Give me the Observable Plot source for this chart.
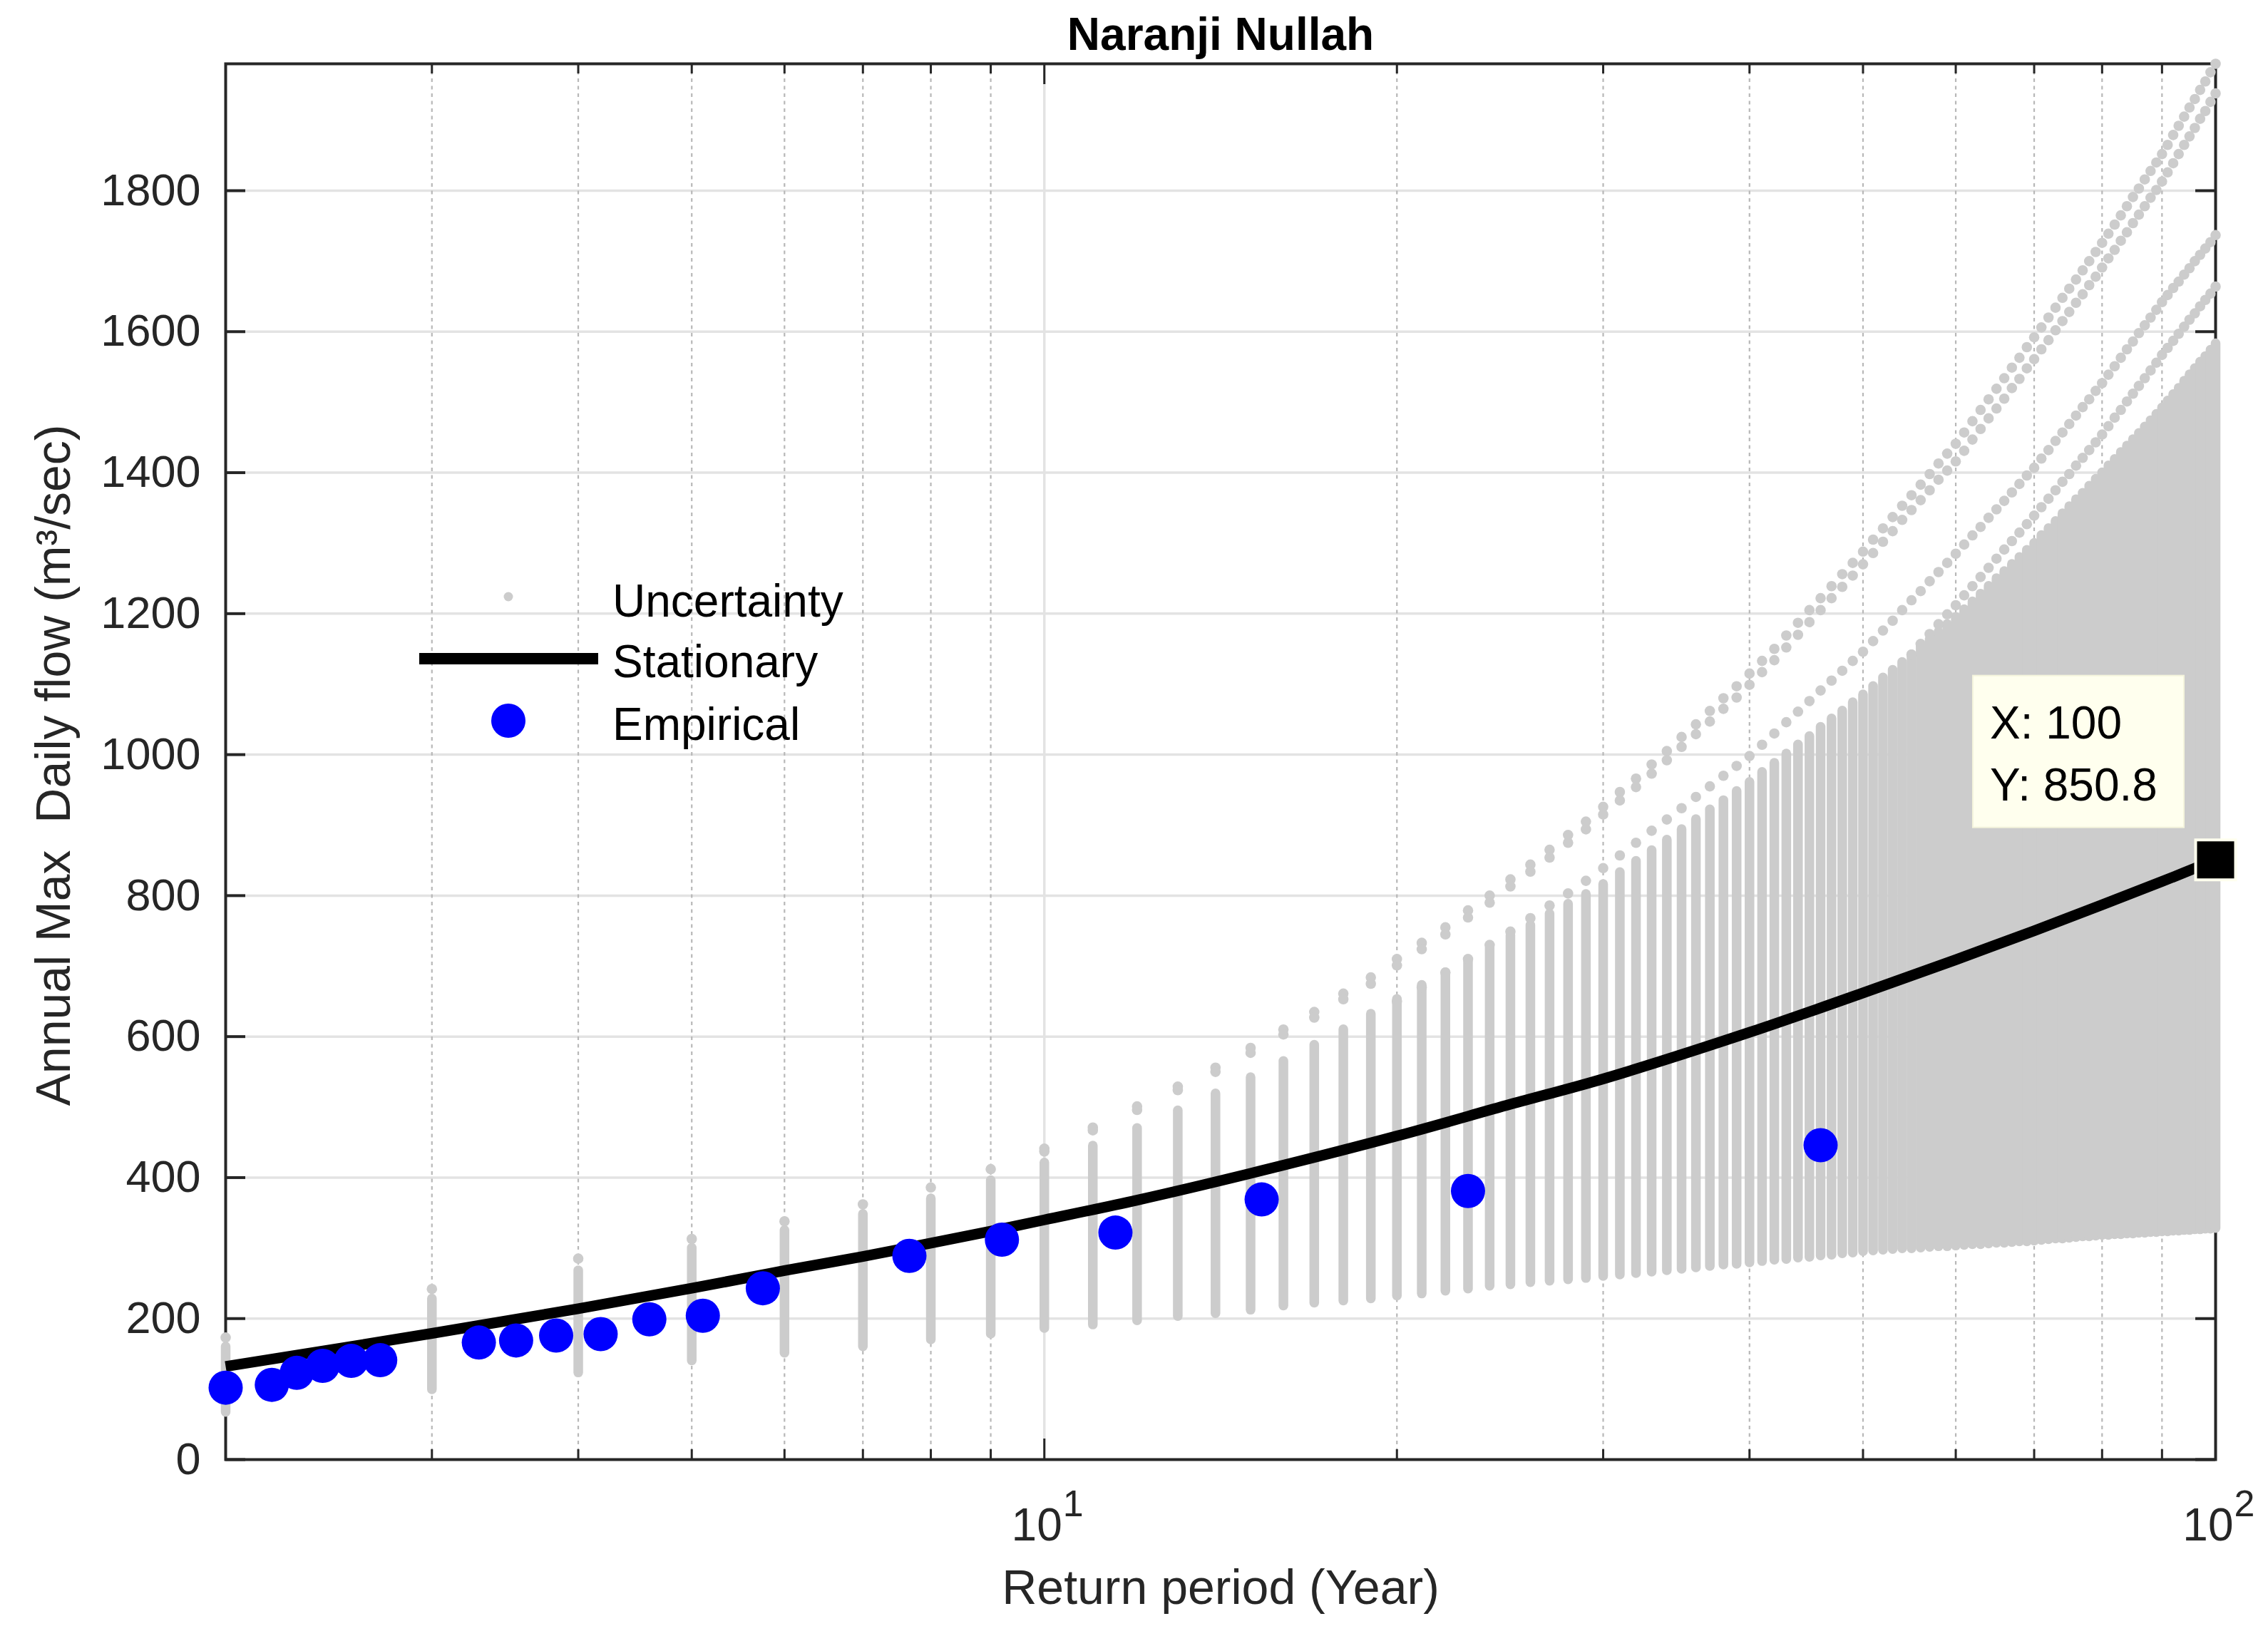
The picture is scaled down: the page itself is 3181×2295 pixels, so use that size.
<!DOCTYPE html>
<html>
<head>
<meta charset="utf-8">
<script src="https://cdn.jsdelivr.net/npm/d3@7"></script>
<script src="https://cdn.jsdelivr.net/npm/@observablehq/plot@0.6"></script>
<style>
  html, body { margin: 0; padding: 0; background: #ffffff; overflow: hidden; }
</style>
</head>
<body>
<div id="chart"></div>
<script>
// ---------------- data ----------------
const TITLE = "Naranji Nullah";
const X_LABEL = "Return period (Year)";
const Y_LABEL = "Annual Max\u00a0 Daily flow (m\u00b3/sec)";

const Y_TICKS = [0, 200, 400, 600, 800, 1000, 1200, 1400, 1600, 1800];
const X_MAJOR = [10, 100];
const X_MINOR = [3, 4, 5, 6, 7, 8, 9, 20, 30, 40, 50, 60, 70, 80, 90];
const X_EXP = ["1", "2"];

// return periods of the uncertainty columns
const T_YEARS = [
  2, 3, 4, 5, 6, 7, 8, 9,
  10, 11, 12, 13, 14, 15, 16, 17, 18, 19,
  20, 21, 22, 23, 24, 25, 26, 27, 28, 29,
  30, 31, 32, 33, 34, 35, 36, 37, 38, 39,
  40, 41, 42, 43, 44, 45, 46, 47, 48, 49,
  50, 51, 52, 53, 54, 55, 56, 57, 58, 59,
  60, 61, 62, 63, 64, 65, 66, 67, 68, 69,
  70, 71, 72, 73, 74, 75, 76, 77, 78, 79,
  80, 81, 82, 83, 84, 85, 86, 87, 88, 89,
  90, 91, 92, 93, 94, 95, 96, 97, 98, 99,
  100
];
// bottom of the dense uncertainty column
const UNC_LOW = [
  67, 99, 123, 140, 151, 160, 170, 178,
  186, 191, 197, 203, 207, 212, 218, 222, 225, 228,
  232, 235, 239, 242, 246, 248, 251, 253, 255, 257,
  260, 262, 264, 266, 268, 270, 272, 274, 276, 277,
  279, 281, 283, 284, 286, 287, 289, 290, 292, 293,
  295, 296, 297, 298, 299, 299, 300, 301, 302, 302,
  303, 304, 305, 305, 306, 307, 307, 308, 309, 309,
  310, 311, 312, 313, 313, 314, 315, 316, 316, 317,
  318, 318, 319, 319, 320, 320, 321, 321, 322, 322,
  323, 323, 324, 324, 325, 325, 326, 326, 327, 327,
  328
];
// top of the dense uncertainty column
const UNC_HIGH = [
  160, 228, 268, 300, 325, 348, 370, 396,
  421, 445, 470, 495, 519, 542, 565, 588, 610, 632,
  653, 673, 691, 709, 726, 743, 758, 774, 788, 802,
  816, 833, 849, 864, 879, 894, 908, 922, 935, 948,
  961, 975, 988, 1001, 1014, 1026, 1039, 1051, 1062, 1074,
  1085, 1097, 1109, 1120, 1131, 1142, 1153, 1164, 1174, 1185,
  1195, 1206, 1217, 1228, 1239, 1250, 1260, 1270, 1280, 1290,
  1300, 1311, 1321, 1331, 1342, 1352, 1362, 1371, 1381, 1391,
  1400, 1410, 1419, 1429, 1438, 1447, 1456, 1465, 1474, 1483,
  1492, 1502, 1511, 1520, 1530, 1539, 1548, 1557, 1565, 1574,
  1583
];
// separate upper uncertainty curves (dotted)
const UNC_A = [
  173, 242, 285, 313, 338, 362, 386, 412,
  441, 471, 501, 529, 556, 584, 610, 635, 661, 684,
  710, 733, 755, 779, 800, 823, 844, 865, 886, 905,
  926, 947, 966, 986, 1005, 1025, 1043, 1062, 1080, 1097,
  1115, 1133, 1150, 1169, 1187, 1205, 1222, 1239, 1256, 1272,
  1288, 1305, 1321, 1337, 1353, 1368, 1383, 1398, 1413, 1427,
  1441, 1457, 1473, 1489, 1504, 1519, 1534, 1549, 1563, 1578,
  1592, 1606, 1620, 1634, 1648, 1661, 1674, 1687, 1700, 1713,
  1726, 1739, 1752, 1765, 1778, 1791, 1803, 1816, 1828, 1840,
  1852, 1865, 1879, 1892, 1905, 1918, 1930, 1943, 1955, 1968,
  1980
];
const UNC_A2 = [
  null, null, null, null, null, null, null, null,
  437, 467, 496, 524, 550, 577, 603, 627, 653, 675,
  701, 724, 745, 769, 790, 813, 834, 854, 875, 894,
  915, 935, 954, 973, 992, 1011, 1029, 1047, 1065, 1081,
  1099, 1117, 1134, 1152, 1170, 1188, 1205, 1222, 1238, 1254,
  1270, 1286, 1302, 1317, 1333, 1347, 1361, 1375, 1390, 1403,
  1416, 1431, 1447, 1462, 1477, 1491, 1505, 1520, 1533, 1548,
  1561, 1575, 1588, 1602, 1615, 1628, 1641, 1653, 1666, 1678,
  1691, 1704, 1716, 1729, 1741, 1754, 1766, 1778, 1790, 1801,
  1813, 1826, 1839, 1852, 1865, 1877, 1889, 1902, 1913, 1926,
  1938
];
const UNC_B = [
  null, null, null, null, null, null, null, null,
  null, null, null, null, null, null, null, null, null, null,
  650, 670, 691, 710, 730, 749, 768, 786, 803, 821,
  839, 857, 875, 892, 908, 924, 940, 955, 970, 984,
  998, 1014, 1030, 1046, 1061, 1076, 1091, 1105, 1119, 1133,
  1146, 1161, 1176, 1190, 1205, 1219, 1232, 1246, 1259, 1272,
  1285, 1298, 1311, 1323, 1336, 1348, 1360, 1372, 1384, 1396,
  1407, 1420, 1432, 1445, 1457, 1469, 1481, 1493, 1504, 1516,
  1527, 1539, 1551, 1563, 1575, 1586, 1598, 1609, 1620, 1631,
  1642, 1652, 1662, 1671, 1681, 1690, 1700, 1709, 1718, 1727,
  1737
];
const UNC_C = [
  null, null, null, null, null, null, null, null,
  null, null, null, null, null, null, null, null, null, null,
  null, null, null, null, null, null, null, null, null, null,
  null, null, null, null, null, null, null, null, null, null,
  null, null, null, null, null, null, null, null, null, null,
  null, null, null, null, null, 1142, 1157, 1171, 1185, 1199,
  1212, 1226, 1239, 1252, 1265, 1278, 1291, 1303, 1315, 1327,
  1339, 1351, 1363, 1375, 1387, 1398, 1410, 1421, 1432, 1443,
  1454, 1466, 1478, 1489, 1501, 1512, 1523, 1534, 1545, 1556,
  1567, 1577, 1587, 1597, 1607, 1617, 1626, 1636, 1645, 1654,
  1664
];

// stationary fitted curve
const STAT_T = [2, 3, 4, 5, 6, 7, 8, 9, 10, 12, 15, 20, 25, 30, 40, 50, 60, 70, 80, 90, 100];
const STAT_Q = [132, 179, 214, 243, 268, 288, 307, 324, 340, 368, 406, 459, 504, 540, 606, 662, 709, 750, 787, 820, 850.8];

// empirical points
const EMP_T = [2.0, 2.19, 2.3, 2.42, 2.56, 2.71, 3.29, 3.54, 3.83, 4.18, 4.6, 5.11, 5.75, 7.67, 9.2, 11.5, 15.33, 23, 46];
const EMP_Q = [102, 106, 123, 133, 140, 141, 166, 169, 176, 178, 199, 204, 243, 289, 312, 322, 369, 381, 446];

// data tip
const TIP_X = [100];
const TIP_Y = [850.8];

const LEGEND = ["Uncertainty", "Stationary", "Empirical"];

// ---------------- tables ----------------
const unc = T_YEARS.map((t, i) => ({t, lo: UNC_LOW[i], hi: UNC_HIGH[i]}));
const uncCurves = [UNC_A, UNC_A2, UNC_B, UNC_C].flatMap(arr =>
  T_YEARS.map((t, i) => ({t, v: arr[i]})).filter(d => d.v != null));
const stat = STAT_T.map((t, i) => ({t, q: STAT_Q[i]}));
const emp = EMP_T.map((t, i) => ({t, q: EMP_Q[i]}));
const tip = TIP_X.map((t, i) => ({t, q: TIP_Y[i]}));

// ---------------- layout ----------------
const W = 3181, H = 2295;
const ML = 316, MR = 74, MT = 89, MB = 248;
const FW = W - ML - MR, FH = H - MT - MB;
const FONT = "'Liberation Sans', Arial, Helvetica, sans-serif";
const AX = "#262626";
const GREY = "#cccccc";

const plot = Plot.plot({
  width: W, height: H,
  marginLeft: ML, marginRight: MR, marginTop: MT, marginBottom: MB,
  x: {type: "log", domain: [2, 100], axis: null},
  y: {domain: [0, 1980], axis: null},
  style: {fontFamily: FONT, background: "#ffffff", color: AX, overflow: "visible"},
  marks: [
    // grid
    Plot.ruleY(Y_TICKS, {y: d => d, stroke: "#e3e3e3", strokeWidth: 3.5}),
    Plot.ruleX(X_MINOR, {x: d => d, stroke: "#b8b8b8", strokeWidth: 2.2, strokeDasharray: "5,5.5"}),
    Plot.ruleX(X_MAJOR, {x: d => d, stroke: "#e3e3e3", strokeWidth: 3.5}),
    // box
    Plot.frame({stroke: AX, strokeWidth: 4}),
    // inward ticks
    Plot.tickY(Y_TICKS, {y: d => d, insetRight: FW - 28, stroke: AX, strokeWidth: 4}),
    Plot.tickY(Y_TICKS, {y: d => d, insetLeft: FW - 28, stroke: AX, strokeWidth: 4}),
    Plot.tickX(X_MAJOR, {x: d => d, insetTop: FH - 29, stroke: AX, strokeWidth: 3}),
    Plot.tickX(X_MAJOR, {x: d => d, insetBottom: FH - 29, stroke: AX, strokeWidth: 3}),
    Plot.tickX(X_MINOR, {x: d => d, insetTop: FH - 14, stroke: AX, strokeWidth: 3}),
    Plot.tickX(X_MINOR, {x: d => d, insetBottom: FH - 14, stroke: AX, strokeWidth: 3}),
    // tick labels
    Plot.text(Y_TICKS, {y: d => d, text: d => String(d), frameAnchor: "left", dx: -35,
      textAnchor: "end", lineAnchor: "middle", fontSize: 63, fill: AX}),
    Plot.text(X_MAJOR, {x: d => d, text: () => "10", frameAnchor: "bottom", dy: 93, dx: 25,
      textAnchor: "end", lineAnchor: "middle", fontSize: 64, fill: AX}),
    Plot.text(X_MAJOR, {x: d => d, text: (d, i) => X_EXP[i], frameAnchor: "bottom", dy: 63, dx: 26,
      textAnchor: "start", lineAnchor: "middle", fontSize: 52, fill: AX}),
    // axis labels & title
    Plot.text([X_LABEL], {text: d => d, frameAnchor: "bottom", dy: 181, textAnchor: "middle",
      lineAnchor: "middle", fontSize: 68, fill: AX}),
    Plot.text([Y_LABEL], {text: d => d, frameAnchor: "left", dx: -240, dy: 5, rotate: -90,
      textAnchor: "middle", lineAnchor: "middle", fontSize: 68, fill: AX}),
    Plot.text([TITLE], {text: d => d, frameAnchor: "top", dy: -40, textAnchor: "middle",
      lineAnchor: "middle", fontSize: 64, fontWeight: "bold", fill: "#000"}),
    // uncertainty
    Plot.ruleX(unc, {x: "t", y1: "lo", y2: "hi", stroke: GREY, strokeWidth: 13.5, strokeLinecap: "round"}),
    Plot.dot(uncCurves, {x: "t", y: "v", r: 7.3, fill: GREY}),
    // stationary
    Plot.line(stat, {x: "t", y: "q", stroke: "#000", strokeWidth: 15, curve: "catmull-rom", strokeLinecap: "butt"}),
    // empirical
    Plot.dot(emp, {x: "t", y: "q", r: 24, fill: "#0000ff"}),
    // data tip marker
    Plot.dot(tip, {x: "t", y: "q", symbol: "square", r: 31.6, fill: "#000", stroke: "#ffffee", strokeWidth: 4})
  ]
});

document.getElementById("chart").appendChild(plot);

// ---------------- legend & data-tip box ----------------
const svg = d3.select(plot);
const lg = svg.append("g").attr("font-family", FONT).attr("font-size", 64)
  .attr("fill", "#000").attr("text-anchor", "start");
lg.append("circle").attr("cx", 713).attr("cy", 837).attr("r", 6.5).attr("fill", GREY);
lg.append("line").attr("x1", 588).attr("x2", 839).attr("y1", 924).attr("y2", 924)
  .attr("stroke", "#000").attr("stroke-width", 16);
lg.append("circle").attr("cx", 713).attr("cy", 1011).attr("r", 24).attr("fill", "#0000ff");
[865, 950, 1038].forEach((yy, i) => {
  lg.append("text").attr("x", 859).attr("y", yy).attr("text-anchor", "start").text(LEGEND[i]);
});

const sx = plot.scale("x"), sy = plot.scale("y");
const px = sx.apply(TIP_X[0]), py = sy.apply(TIP_Y[0]);
const tg = svg.append("g").attr("font-family", FONT).attr("font-size", 64)
  .attr("fill", "#000").attr("text-anchor", "start");
tg.append("rect").attr("x", px - 340).attr("y", py - 258).attr("width", 296).attr("height", 213)
  .attr("fill", "#ffffee").attr("stroke", "#f4f4dc").attr("stroke-width", 2);
tg.append("text").attr("x", px - 316).attr("y", py - 170).attr("text-anchor", "start").text(`X: ${TIP_X[0]}`);
tg.append("text").attr("x", px - 316).attr("y", py - 83).attr("text-anchor", "start").text(`Y: ${TIP_Y[0]}`);
</script>
</body>
</html>
